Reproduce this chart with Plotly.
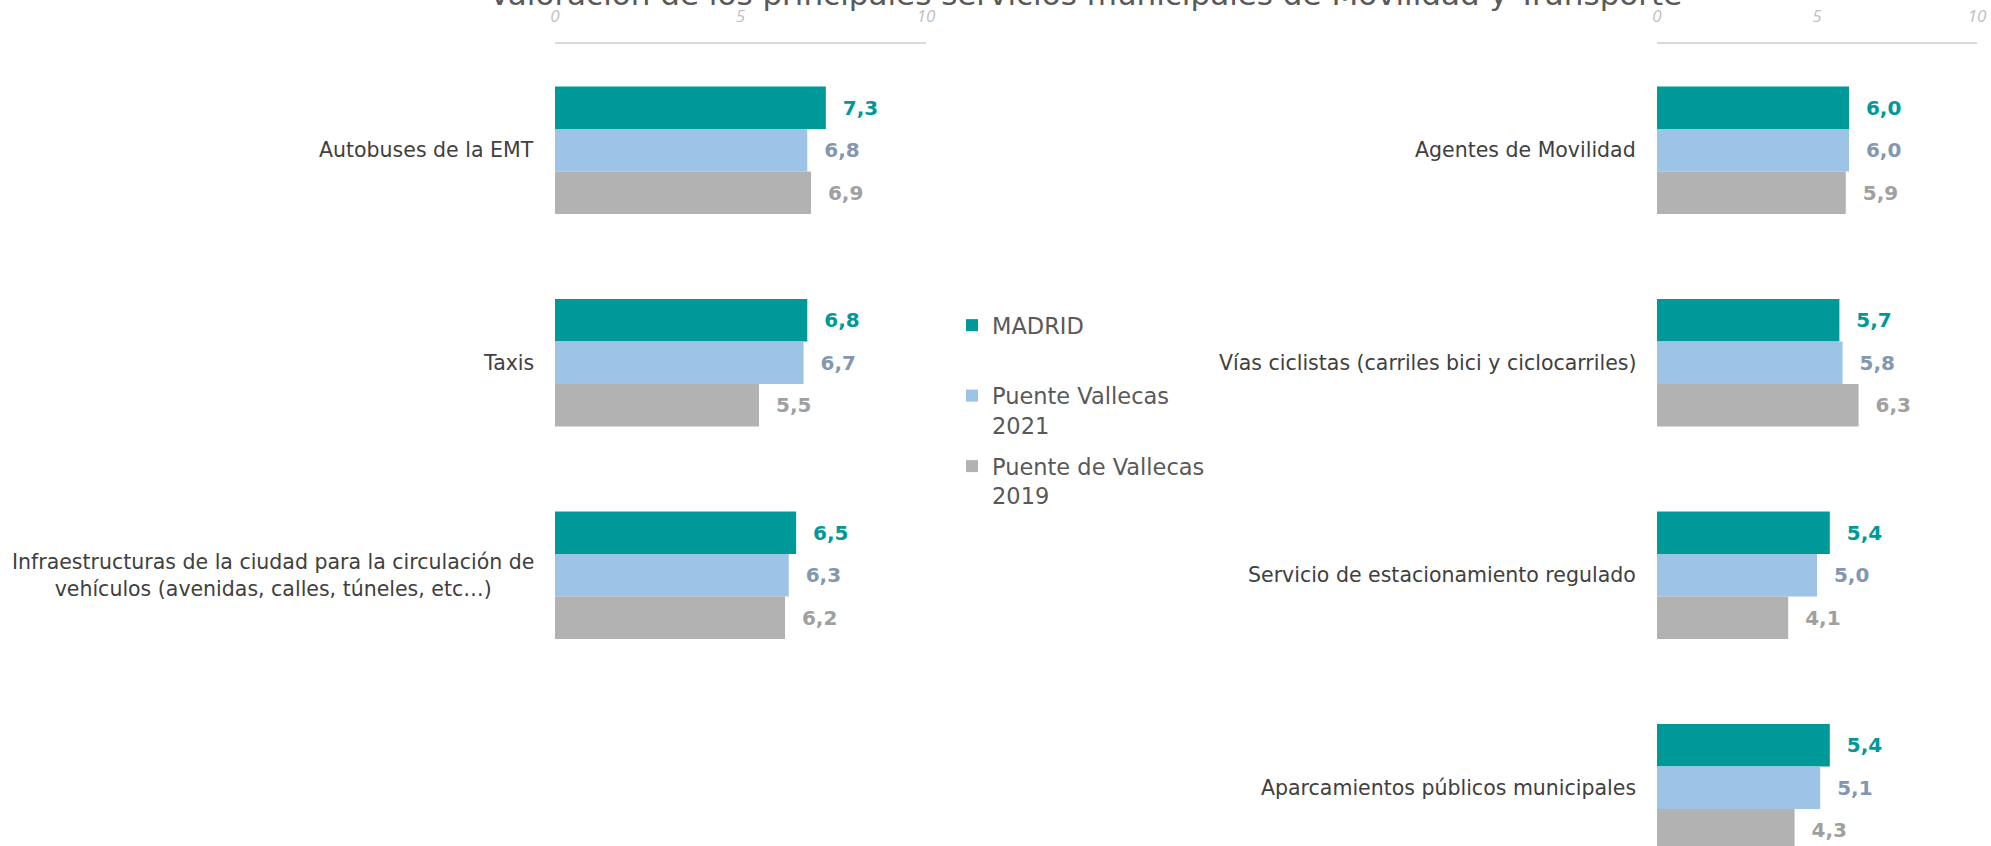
import plotly.graph_objects as go

# ---------------- data ----------------
series_names = ["MADRID", "Puente Vallecas 2021", "Puente de Vallecas 2019"]
legend_labels = ["MADRID<br>\u00a0", "Puente Vallecas<br>2021", "Puente de Vallecas<br>2019"]

left_categories = [
    "Autobuses de la EMT",
    "Taxis",
    "Infraestructuras de la ciudad para la circulación de<br>vehículos (avenidas, calles, túneles, etc…)",
]
left_madrid = [7.3, 6.8, 6.5]
left_pv2021 = [6.8, 6.7, 6.3]
left_pv2019 = [6.9, 5.5, 6.2]

right_categories = [
    "Agentes de Movilidad",
    "Vías ciclistas (carriles bici y ciclocarriles)",
    "Servicio de estacionamiento regulado",
    "Aparcamientos públicos municipales",
]
right_madrid = [6.0, 5.7, 5.4, 5.4]
right_pv2021 = [6.0, 5.8, 5.0, 5.1]
right_pv2019 = [5.9, 6.3, 4.1, 4.3]

x_tickvals = [0, 5, 10]
title_text = "Valoración de los principales servicios municipales de Movilidad y Transporte"

# ---------------- styles ----------------
bar_colors = ["#009999", "#9DC3E6", "#B2B2B2"]
label_colors = ["#009999", "#8497B0", "#A0A0A0"]
FONT = "DejaVu Sans"
TEXT_COLOR = "#404040"

fig = go.Figure()

panels = [
    ("x", "y", left_categories, [left_madrid, left_pv2021, left_pv2019], True),
    ("x2", "y2", right_categories, [right_madrid, right_pv2021, right_pv2019], False),
]

for xa, ya, cats, vals, show in panels:
    for i, v in enumerate(vals):
        fig.add_trace(go.Bar(
            x=v, y=cats, orientation="h",
            xaxis=xa, yaxis=ya,
            name=legend_labels[i],
            legendgroup=series_names[i],
            showlegend=show,
            marker=dict(color=bar_colors[i], line=dict(width=0)),
            texttemplate="\u00a0\u00a0%{x:.1f}",
            textposition="outside",
            textfont=dict(family=FONT, size=20, color=label_colors[i], weight="bold"),
            cliponaxis=False,
            constraintext="none",
            hoverinfo="skip",
        ))

annotations = []
for xr, yr, cats in [("x", "y", left_categories), ("x2", "y2", right_categories)]:
    for c in cats:
        annotations.append(dict(
            x=0, y=c, xref=xr, yref=yr, xanchor="right", yanchor="middle",
            xshift=-19, text=c, showarrow=False, align="center",
            font=dict(family=FONT, size=20.5, color=TEXT_COLOR),
        ))

annotations.append(dict(
    x=0.545, y=1, xref="paper", yref="paper", xanchor="center", yanchor="middle",
    yshift=6, text=title_text, showarrow=False,
    font=dict(family=FONT, size=31, color="#595959"),
))

y_top = 1 - 44 / 846
yrange = [3.274, -0.5]

xaxis_common = dict(
    range=[0, 10], side="top", tickvals=x_tickvals, showline=True,
    linecolor="#D9D9D9", linewidth=2, showgrid=False, zeroline=False,
    ticks="", ticklabelstandoff=13, fixedrange=True, automargin=False,
    tickfont=dict(family="Open Sans", size=17, color="#BFBFBF", style="italic"),
)
yaxis_common = dict(
    type="category", range=yrange, showticklabels=False, showline=False,
    showgrid=False, zeroline=False, ticks="", domain=[0, y_top], fixedrange=True,
    automargin=False,
)

fig.update_layout(
    width=1991, height=846,
    margin=dict(l=0, r=0, t=0, b=0, autoexpand=False),
    paper_bgcolor="white", plot_bgcolor="white",
    barmode="group", bargap=0.4, bargroupgap=0,
    separators=",.",
    xaxis=dict(domain=[555 / 1991, 926 / 1991], anchor="y", **xaxis_common),
    xaxis2=dict(domain=[1657 / 1991, 1977 / 1991], anchor="y2", **xaxis_common),
    yaxis=dict(anchor="x", **yaxis_common),
    yaxis2=dict(anchor="x2", **yaxis_common),
    legend=dict(
        x=952 / 1991, y=1 - 304 / 846, xanchor="left", yanchor="top",
        font=dict(family=FONT, size=22.5, color="#595959"),
        valign="top", tracegroupgap=9, bgcolor="rgba(0,0,0,0)",
        traceorder="grouped",
    ),
    annotations=annotations,
    showlegend=True,
)

fig.write_html(
    "out.html",
    config={"displayModeBar": False},
    post_script="document.body.style.margin='0';document.body.style.padding='0';",
)
